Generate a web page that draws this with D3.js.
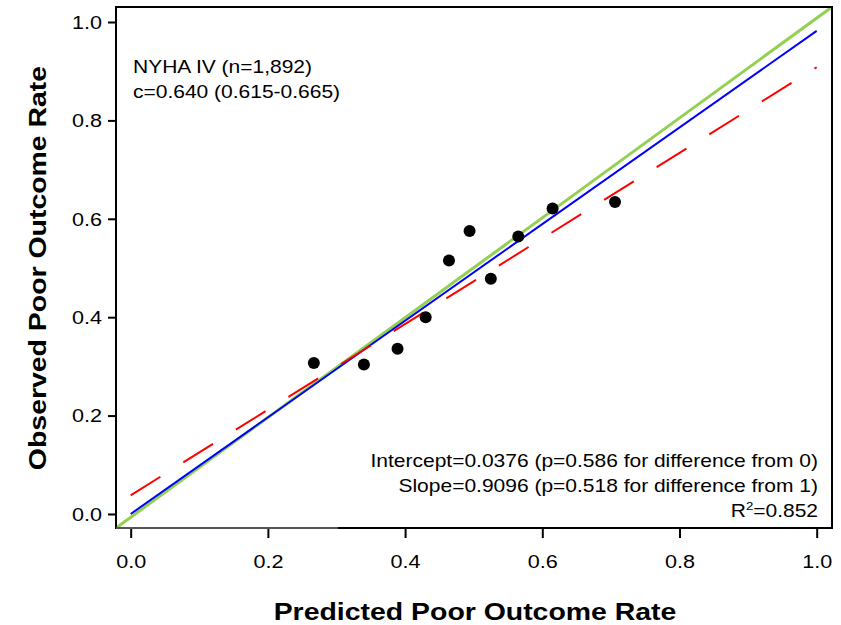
<!DOCTYPE html>
<html>
<head>
<meta charset="utf-8">
<script src="https://cdn.jsdelivr.net/npm/d3@7"></script>
<style>
body { margin: 0; background: #fff; }
text { font-family: "Liberation Sans", Arial, sans-serif; fill: #000; }
</style>
</head>
<body>
<script>
/*Data*/
var predicted = [0.267, 0.340, 0.389, 0.430, 0.464, 0.494, 0.525, 0.565, 0.615, 0.706]
var observed  = [0.307, 0.304, 0.336, 0.400, 0.515, 0.575, 0.478, 0.564, 0.621, 0.634]

var tickValues = [0, 0.2, 0.4, 0.6, 0.8, 1.0]

// fitted line (blue) and calibration line (red dashed), end points at x=0 and x=1
var fitX = [0, 1], fitY = [0, 0.982]
var calX = [0, 1], calY = [0.038, 0.908]

var topLabels = ["NYHA IV (n=1,892)", "c=0.640 (0.615-0.665)"]
var bottomLabels = ["Intercept=0.0376 (p=0.586 for difference from 0)",
					"Slope=0.9096 (p=0.518 for difference from 1)"]
var r2Label = "0.852"

var width = 841, height = 625
var stretch = 1.2

var svg = d3.select("body").append("svg")
			.attr("width", width)
			.attr("height", height)

var xScale = d3.scaleLinear().domain([-0.0214, 1.0223]).range([116, 832])
var yScale = d3.scaleLinear().domain([-0.0285, 1.0305]).range([528, 7])

/*helper: stretched text placed with a transform*/
function addText(x, y, str, size, anchor, weight){
	return svg.append("text")
		.attr("transform", "translate(" + x + "," + y + ") scale(" + stretch + ",1)")
		.attr("text-anchor", anchor)
		.style("font-size", size + "px")
		.style("font-weight", weight || "normal")
		.text(str)
}

/*Axes*/
var xAxis = d3.axisBottom(xScale).tickValues(tickValues).tickSize(10).tickFormat(d3.format(".1f"))
var yAxis = d3.axisLeft(yScale).tickValues(tickValues).tickSize(8).tickFormat(d3.format(".1f"))

var gx = svg.append("g").attr("transform", "translate(0,528)").call(xAxis)
gx.select(".domain").remove()
gx.selectAll("line").attr("stroke", "#000").attr("stroke-width", 2)
gx.selectAll("text")
	.attr("y", 0).attr("dy", null)
	.attr("transform", "translate(0,40) scale(" + stretch + ",1)")
	.style("font-size", "18px")

var gy = svg.append("g").attr("transform", "translate(116,0)").call(yAxis)
gy.select(".domain").remove()
gy.selectAll("line").attr("stroke", "#000").attr("stroke-width", 2)
gy.selectAll("text")
	.attr("x", 0).attr("dy", "0.35em")
	.attr("transform", "translate(-14,0) scale(" + stretch + ",1)")
	.style("font-size", "18px")

/*Reference line through the plot corners*/
var line = d3.line().x(function(d){return xScale(d[0])}).y(function(d){return yScale(d[1])})

svg.append("path")
	.datum([[xScale.domain()[0], yScale.domain()[0]], [xScale.domain()[1], yScale.domain()[1]]])
	.attr("d", line)
	.attr("fill", "none")
	.attr("stroke", "#92D050")
	.attr("stroke-width", 3)

svg.append("path")
	.datum(d3.zip(fitX, fitY))
	.attr("d", line)
	.attr("fill", "none")
	.attr("stroke", "#0000FF")
	.attr("stroke-width", 2)

svg.append("path")
	.datum(d3.zip(calX, calY))
	.attr("d", line)
	.attr("fill", "none")
	.attr("stroke", "#FF0000")
	.attr("stroke-width", 2)
	.attr("stroke-dasharray", "35,27")

/*Points*/
svg.selectAll("circle.pt")
	.data(d3.zip(predicted, observed))
	.enter()
		.append("circle")
		.attr("class", "pt")
		.attr("cx", function(d){return xScale(d[0])})
		.attr("cy", function(d){return yScale(d[1])})
		.attr("r", 6)
		.attr("fill", "#000")

/*Frame*/
svg.append("rect")
	.attr("x", 116).attr("y", 7)
	.attr("width", 716).attr("height", 521)
	.attr("fill", "none")
	.attr("stroke", "#000")
	.attr("stroke-width", 2)

svg.append("line")
	.attr("x1", 116).attr("x2", 338)
	.attr("y1", 528).attr("y2", 528)
	.attr("stroke", "#555")
	.attr("stroke-width", 2)

/*Annotations*/
topLabels.forEach(function(t, i){
	addText(133, 73 + i * 25, t, 17.5, "start")
})

bottomLabels.forEach(function(t, i){
	addText(818, 467 + i * 25, t, 17.5, "end")
})

var r2 = addText(818, 517, "", 17.5, "end")
r2.append("tspan").text("R")
r2.append("tspan").attr("dy", -7).style("font-size", "11px").text("2")
r2.append("tspan").attr("dy", 7).text("=" + r2Label)

/*Axis titles*/
addText(475, 620, "Predicted Poor Outcome Rate", 23.7, "middle", "bold")

svg.append("text")
	.attr("transform", "translate(46,268) rotate(-90) scale(" + stretch + ",1)")
	.attr("text-anchor", "middle")
	.style("font-size", "23.7px")
	.style("font-weight", "bold")
	.text("Observed Poor Outcome Rate")
</script>
</body>
</html>
